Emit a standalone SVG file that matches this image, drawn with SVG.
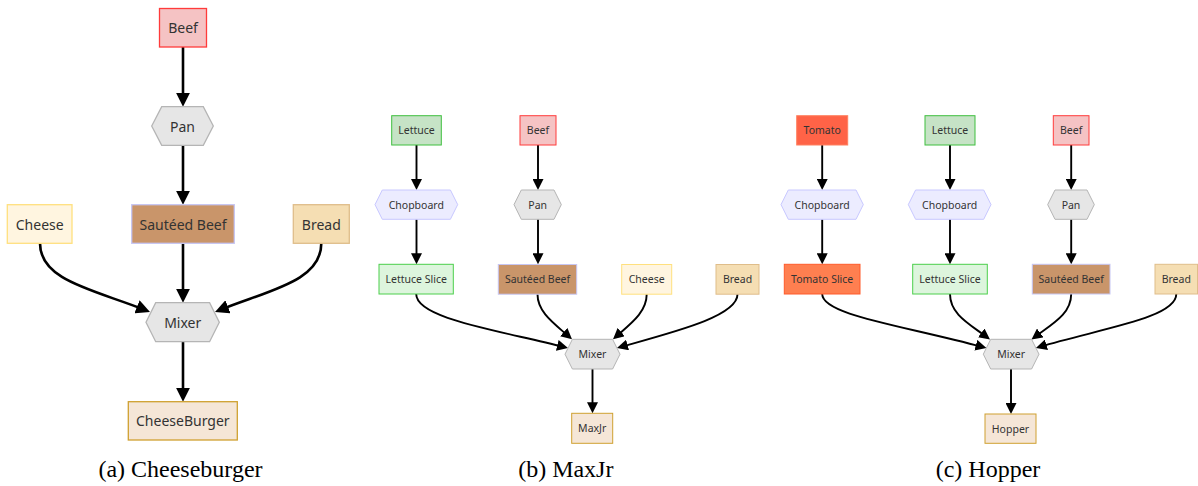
<svg xmlns="http://www.w3.org/2000/svg" width="1198" height="486" viewBox="0 0 1198 486">
  <defs>
    <style>
      .lbl { font-family: "Noto Sans", "Open Sans", sans-serif; fill: #333333; text-anchor: middle; dominant-baseline: central; }
      .big { font-size: 14px; }
      .sm { font-size: 10.5px; }
      .cap { font-family: "Liberation Serif", "Times New Roman", serif; font-size: 24px; fill: #000000; text-anchor: middle; }
      .n-a { stroke-width: 1.3; }
      .n-s { stroke-width: 1; }
      .beef { fill: #f5c3c4; stroke: #ff3b3b; }
      .tool { fill: #e6e6e6; stroke: #b5b5b5; }
      .sauteed { fill: #c9956a; stroke: #c6c6f4; }
      .cheese { fill: #fff5e0; stroke: #ffe07e; }
      .bread { fill: #f5deb3; stroke: #dfbd8a; }
      .product { fill: #f5e6d7; stroke: #cfa030; }
      .lettuce { fill: #c6e3c6; stroke: #3fbf3f; }
      .lslice { fill: #ddf5dd; stroke: #4ccf4c; }
      .chop { fill: #ececff; stroke: #c8c8ff; }
      .tomato { fill: #ff6347; stroke: #ff8060; }
      .tslice { fill: #ff7f50; stroke: #ff5a2a; }
      .e-a { fill: none; stroke: #000000; stroke-width: 2.6; marker-end: url(#arrowBig); }
      .e-s { fill: none; stroke: #000000; stroke-width: 1.9; marker-end: url(#arrowSmall); }
    </style>
    <marker id="arrowBig" viewBox="0 0 10 10" refX="6" refY="5" markerUnits="userSpaceOnUse" markerWidth="14" markerHeight="14" orient="auto">
      <path d="M0,0 L10,5 L0,10 z" fill="#000000"/>
    </marker>
    <marker id="arrowSmall" viewBox="0 0 10 10" refX="6" refY="5" markerUnits="userSpaceOnUse" markerWidth="11" markerHeight="11" orient="auto">
      <path d="M0,0 L10,5 L0,10 z" fill="#000000"/>
    </marker>
  </defs>

  <rect width="1198" height="486" fill="#ffffff"/>

  <!-- (a) Cheeseburger -->
  <g id="connectors-a">
    <path class="e-a" d="M183,47 L183,101.1"/>
    <path class="e-a" d="M183,145.3 L183,199.1"/>
    <path class="e-a" d="M183,243.3 L183,297.1"/>
    <path class="e-a" d="M40,243.3 C40,281 94.8,289.9 144.8,309.9"/>
    <path class="e-a" d="M321.3,243.3 C321.3,281 270.2,289.9 220.2,309.9"/>
    <path class="e-a" d="M183,341.7 L183,396.1"/>
  </g>
  <g id="a-beef">
    <rect class="beef n-a" x="159.5" y="8.5" width="47" height="38.5"/>
    <text class="lbl big" x="183" y="27.8">Beef</text>
  </g>
  <g id="a-pan">
    <polygon class="tool n-a" points="151.7,126 161.7,106.7 203.3,106.7 213.3,126 203.3,145.3 161.7,145.3"/>
    <text class="lbl big" x="182.5" y="126">Pan</text>
  </g>
  <g id="a-cheese">
    <rect class="cheese n-a" x="7.3" y="204.7" width="64.7" height="38.6"/>
    <text class="lbl big" x="39.7" y="224">Cheese</text>
  </g>
  <g id="a-sauteed-beef">
    <rect class="sauteed n-a" x="131.7" y="204.7" width="102.6" height="38.6"/>
    <text class="lbl big" x="183" y="224">Sautéed Beef</text>
  </g>
  <g id="a-bread">
    <rect class="bread n-a" x="293.3" y="204.7" width="56" height="38.6"/>
    <text class="lbl big" x="321.3" y="224">Bread</text>
  </g>
  <g id="a-mixer">
    <polygon class="tool n-a" points="146,322.2 155.7,302.7 209.6,302.7 219.3,322.2 209.6,341.7 155.7,341.7"/>
    <text class="lbl big" x="182.7" y="322.2">Mixer</text>
  </g>
  <g id="a-cheeseburger">
    <rect class="product n-a" x="128.3" y="401.7" width="109" height="38.3"/>
    <text class="lbl big" x="182.8" y="420.8">CheeseBurger</text>
  </g>
  <text class="cap" x="180.5" y="477">(a) Cheeseburger</text>

  <!-- (b) MaxJr -->
  <g id="connectors-b">
    <path class="e-s" d="M416.5,145 L416.5,185.6"/>
    <path class="e-s" d="M416.5,219.3 L416.5,259.9"/>
    <path class="e-s" d="M538,145 L538,185.6"/>
    <path class="e-s" d="M538,219.3 L538,259.9"/>
    <path class="e-s" d="M416.2,294 C416.2,318 493.7,329.4 563.7,346.9"/>
    <path class="e-s" d="M537.5,294.3 C537.5,312 553.7,323.2 568.7,336.4"/>
    <path class="e-s" d="M646.7,294.3 C646.7,312 631.3,323.2 616.3,336.4"/>
    <path class="e-s" d="M737.5,294.3 C737.5,316 676.2,331.4 621.2,346.8"/>
    <path class="e-s" d="M592.5,369 L592.5,408.9"/>
  </g>
  <g id="b-lettuce">
    <rect class="lettuce n-s" x="391.7" y="115.7" width="49.6" height="29.3"/>
    <text class="lbl sm" x="416.5" y="130.3">Lettuce</text>
  </g>
  <g id="b-beef">
    <rect class="beef n-s" x="520" y="115.7" width="36" height="29.3"/>
    <text class="lbl sm" x="538" y="130.3">Beef</text>
  </g>
  <g id="b-chopboard">
    <polygon class="chop n-s" points="375,204.6 382.3,190 450.4,190 457.7,204.6 450.4,219.3 382.3,219.3"/>
    <text class="lbl sm" x="416.3" y="204.6">Chopboard</text>
  </g>
  <g id="b-pan">
    <polygon class="tool n-s" points="514,204.6 521.3,190 554,190 561.3,204.6 554,219.3 521.3,219.3"/>
    <text class="lbl sm" x="537.7" y="204.6">Pan</text>
  </g>
  <g id="b-lettuce-slice">
    <rect class="lslice n-s" x="379" y="264.3" width="74.3" height="29.7"/>
    <text class="lbl sm" x="416.2" y="279.2">Lettuce Slice</text>
  </g>
  <g id="b-sauteed-beef">
    <rect class="sauteed n-s" x="498.3" y="264.5" width="78.4" height="29.7"/>
    <text class="lbl sm" x="537.5" y="279.3">Sautéed Beef</text>
  </g>
  <g id="b-cheese">
    <rect class="cheese n-s" x="621.7" y="264.5" width="50" height="29.7"/>
    <text class="lbl sm" x="646.7" y="279.3">Cheese</text>
  </g>
  <g id="b-bread">
    <rect class="bread n-s" x="716" y="264.5" width="43" height="29.7"/>
    <text class="lbl sm" x="737.5" y="279.3">Bread</text>
  </g>
  <g id="b-mixer">
    <polygon class="tool n-s" points="565,354.2 572.4,339.3 612.6,339.3 620,354.2 612.6,369 572.4,369"/>
    <text class="lbl sm" x="592.5" y="354.2">Mixer</text>
  </g>
  <g id="b-maxjr">
    <rect class="product n-s" x="571.7" y="413.3" width="41" height="30"/>
    <text class="lbl sm" x="592.2" y="428.3">MaxJr</text>
  </g>
  <text class="cap" x="565.8" y="477">(b) MaxJr</text>

  <!-- (c) Hopper -->
  <g id="connectors-c">
    <path class="e-s" d="M822.2,145 L822.2,185.6"/>
    <path class="e-s" d="M822.2,219.3 L822.2,259.9"/>
    <path class="e-s" d="M950,145 L950,185.6"/>
    <path class="e-s" d="M950,219.3 L950,259.9"/>
    <path class="e-s" d="M1071.2,145 L1071.2,185.6"/>
    <path class="e-s" d="M1071.2,219.3 L1071.2,259.9"/>
    <path class="e-s" d="M822.2,294 C822.2,315 902.2,325.3 982.2,346.9"/>
    <path class="e-s" d="M950,294 C950,314 968.9,323.7 986.5,336.9"/>
    <path class="e-s" d="M1071.2,294 C1071.2,314 1052.6,323.7 1035,336.9"/>
    <path class="e-s" d="M1176.3,294 C1176.3,318 1100.1,328.7 1040.1,346.7"/>
    <path class="e-s" d="M1011,369 L1011,409.6"/>
  </g>
  <g id="c-tomato">
    <rect class="tomato n-s" x="796.7" y="115.7" width="51" height="29.3"/>
    <text class="lbl sm" x="822.2" y="130.3">Tomato</text>
  </g>
  <g id="c-lettuce">
    <rect class="lettuce n-s" x="925" y="115.7" width="50" height="29.3"/>
    <text class="lbl sm" x="950" y="130.3">Lettuce</text>
  </g>
  <g id="c-beef">
    <rect class="beef n-s" x="1053.3" y="115.7" width="35.7" height="29.3"/>
    <text class="lbl sm" x="1071.2" y="130.3">Beef</text>
  </g>
  <g id="c-chopboard-1">
    <polygon class="chop n-s" points="781,204.6 788.3,190 856,190 863.3,204.6 856,219.3 788.3,219.3"/>
    <text class="lbl sm" x="822.2" y="204.6">Chopboard</text>
  </g>
  <g id="c-chopboard-2">
    <polygon class="chop n-s" points="908.3,204.6 915.6,190 983.7,190 991,204.6 983.7,219.3 915.6,219.3"/>
    <text class="lbl sm" x="949.7" y="204.6">Chopboard</text>
  </g>
  <g id="c-pan">
    <polygon class="tool n-s" points="1047.7,204.6 1055,190 1087,190 1094.3,204.6 1087,219.3 1055,219.3"/>
    <text class="lbl sm" x="1071" y="204.6">Pan</text>
  </g>
  <g id="c-tomato-slice">
    <rect class="tslice n-s" x="784.3" y="264.3" width="75.7" height="29.7"/>
    <text class="lbl sm" x="822.2" y="279.2">Tomato Slice</text>
  </g>
  <g id="c-lettuce-slice">
    <rect class="lslice n-s" x="912.7" y="264.3" width="74.6" height="29.7"/>
    <text class="lbl sm" x="950" y="279.2">Lettuce Slice</text>
  </g>
  <g id="c-sauteed-beef">
    <rect class="sauteed n-s" x="1032.3" y="264.3" width="77.7" height="29.7"/>
    <text class="lbl sm" x="1071.2" y="279.2">Sautéed Beef</text>
  </g>
  <g id="c-bread">
    <rect class="bread n-s" x="1155" y="264.3" width="42.5" height="29.7"/>
    <text class="lbl sm" x="1176.3" y="279.2">Bread</text>
  </g>
  <g id="c-mixer">
    <polygon class="tool n-s" points="983.3,354.2 990.7,339.3 1031.6,339.3 1039,354.2 1031.6,369 990.7,369"/>
    <text class="lbl sm" x="1011.2" y="354.2">Mixer</text>
  </g>
  <g id="c-hopper">
    <rect class="product n-s" x="985" y="414" width="51" height="29.3"/>
    <text class="lbl sm" x="1010.5" y="428.7">Hopper</text>
  </g>
  <text class="cap" x="988" y="477">(c) Hopper</text>
</svg>
